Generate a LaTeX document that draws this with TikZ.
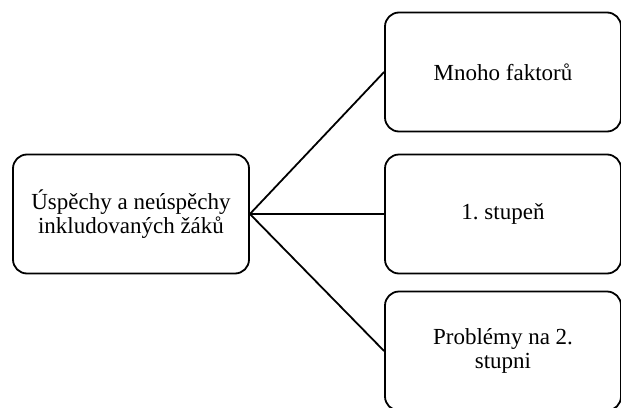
\documentclass[tikz,border=0pt]{standalone}
\usepackage{fontspec}
\setmainfont{Liberation Serif}
\frenchspacing
\begin{document}
\begin{tikzpicture}
[x=1pt, y=-1pt, font=\fontsize{23}{23.5}\selectfont]
\tikzstyle{box}=[rectangle, draw, rounded corners=14pt, line width=1.8pt, minimum width=236pt, minimum height=119pt, align=center, inner sep=0pt]
\useasboundingbox (0,0) rectangle (621,407);

\node[box]	(U)	at (131,214)	{Úspěchy a neúspěchy\\inkludovaných žáků};
\node[box]	(M)	at (503,72)	{Mnoho faktorů};
\node[box]	(S)	at (503,214)	{1. stupeň};
\node[box]	(P)	at (503,351)	{Problémy na 2.\\stupni};

\draw [line width=1.8pt] (U.east)--(M.west);
\draw [line width=1.8pt] (U.east)--(S.west);
\draw [line width=1.8pt] (U.east)--(P.west);
\end{tikzpicture}
\end{document}
